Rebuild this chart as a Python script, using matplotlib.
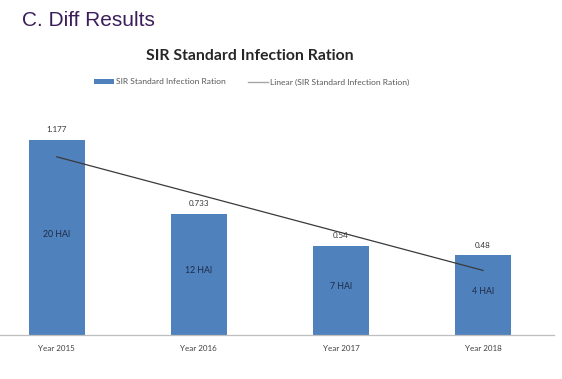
import numpy as np
import matplotlib
matplotlib.use("Agg")
import matplotlib.pyplot as plt
from matplotlib.lines import Line2D

years = ["Year 2015", "Year 2016", "Year 2017", "Year 2018"]
sir = [1.177, 0.733, 0.54, 0.48]
sir_labels = ["1.177", "0.733", "0.54", "0.48"]
hai = ["20 HAI", "12 HAI", "7 HAI", "4 HAI"]

plt.rcParams['font.family'] = ['Lato', 'DejaVu Sans']

fig = plt.figure(figsize=(5.62, 3.79), dpi=100)
fig.patch.set_facecolor("white")

# page heading
fig.text(22 / 562, 1 - 20 / 379, "C. Diff Results", fontsize=15, color="#3b1d5a",
         family=["Liberation Sans"], va="center", ha="left")

# chart title
fig.text(250 / 562, 1 - 56 / 379, "SIR Standard Infection Ration", fontsize=11.3,
         fontweight="bold", color="#262626", ha="center", va="center")

# axes: baseline at y=335, right end ~554
ax = fig.add_axes([0, 1 - 335 / 379, 554 / 562, 232 / 379])
x = np.arange(len(years))
bars = ax.bar(x, sir, width=0.39, color="#4f81bd", label="SIR Standard Infection Ration")

# linear trend line
coef = np.polyfit(x, sir, 1)
trend, = ax.plot(x, np.polyval(coef, x), color="#3a3a3a", lw=0.9,
                 label="Linear (SIR Standard Infection Ration)")

for xi, v, lab, h in zip(x, sir, sir_labels, hai):
    ax.text(xi, v + 0.04, lab, ha="center", va="bottom", fontsize=5.8, color="#333333")
    ax.text(xi, v / 2 + 0.02, h, ha="center", va="center", fontsize=6.3, color="#1f2a44")

ax.set_xlim(-0.4, 3.5)
ax.set_ylim(0, 1.4)
ax.set_xticks(x)
ax.set_xticklabels(years, fontsize=5.8, color="#404040")
ax.tick_params(axis="x", length=0, pad=7)
ax.set_yticks([])
for s in ["top", "right", "left"]:
    ax.spines[s].set_visible(False)
ax.spines["bottom"].set_color("#bfbfbf")
ax.spines["bottom"].set_linewidth(0.9)

# legend: bar first, then a light-grey line sample
line_handle = Line2D([], [], color="#a6a6a6", lw=1)
leg = fig.legend([bars, line_handle], [bars.get_label(), trend.get_label()],
                 loc="center", bbox_to_anchor=(252 / 562, 1 - 82 / 379), ncol=2,
                 frameon=False, fontsize=6.1, handlelength=2.3, handleheight=0.4,
                 columnspacing=2.6, handletextpad=0.3)
for t in leg.get_texts():
    t.set_color("#595959")

fig.savefig("out.png", dpi=100)
